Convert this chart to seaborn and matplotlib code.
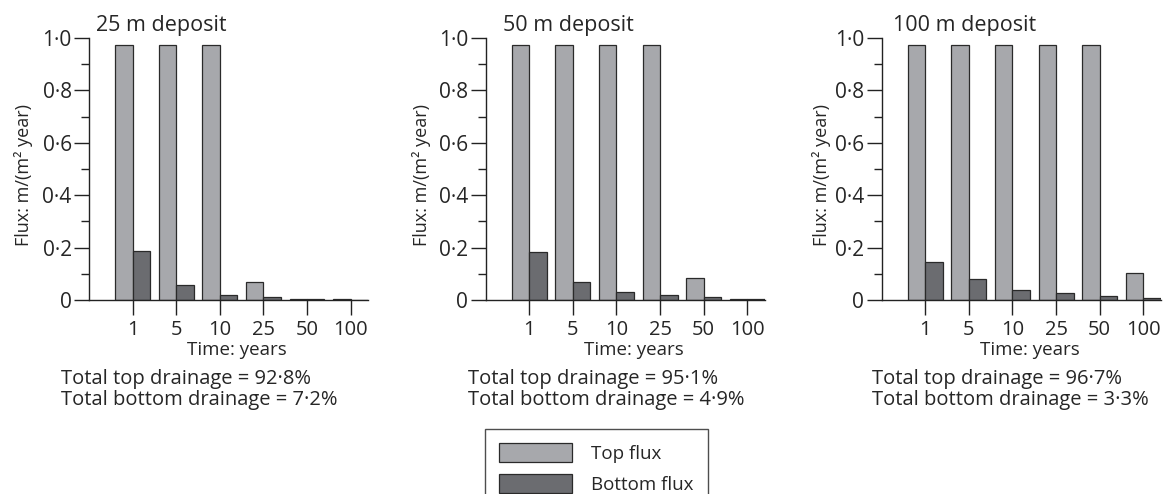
import numpy as np
import pandas as pd
import seaborn as sns
import matplotlib.pyplot as plt
from matplotlib.patches import Patch
from matplotlib.ticker import MultipleLocator

# data
times = ['1', '5', '10', '25', '50', '100']
deposits = ['25 m deposit', '50 m deposit', '100 m deposit']
top_25 = [0.975, 0.975, 0.975, 0.070, 0.005, 0.002]
bottom_25 = [0.187, 0.056, 0.019, 0.011, 0.003, 0.001]
top_50 = [0.975, 0.975, 0.975, 0.975, 0.085, 0.003]
bottom_50 = [0.182, 0.070, 0.029, 0.018, 0.010, 0.002]
top_100 = [0.975, 0.975, 0.975, 0.975, 0.975, 0.102]
bottom_100 = [0.144, 0.079, 0.037, 0.026, 0.015, 0.006]
totals_top = ['92·8%', '95·1%', '96·7%']
totals_bottom = ['7·2%', '4·9%', '3·3%']
ytick_vals = [0, 0.2, 0.4, 0.6, 0.8, 1.0]
ytick_labels = ['0', '0·2', '0·4', '0·6', '0·8', '1·0']
series = ['Top flux', 'Bottom flux']
colors = ['#a7a8ac', '#6b6c70']

tops = [top_25, top_50, top_100]
bottoms = [bottom_25, bottom_50, bottom_100]

sns.set_style('ticks')
plt.rcParams['font.family'] = ['Open Sans', 'DejaVu Sans']
plt.rcParams['font.size'] = 14
plt.rcParams['axes.edgecolor'] = '#222222'
plt.rcParams['axes.linewidth'] = 1.0

fig = plt.figure(figsize=(11.67, 4.94), dpi=100)
W, H = 1167, 494
lefts = [89, 485.7, 881.7]
text_x = [61, 468, 872]
title_x = [96, 503, 893]
ylab_x = [-0.20, -0.196, -0.18]

for i in range(3):
    ax = fig.add_axes([lefts[i] / W, (H - 300) / H, 279 / W, 262 / H])
    df = pd.DataFrame({
        'time': times * 2,
        'flux': tops[i] + bottoms[i],
        'kind': [series[0]] * 6 + [series[1]] * 6,
    })
    sns.barplot(data=df, x='time', y='flux', hue='kind', order=times,
                hue_order=series, palette=colors, saturation=1,
                edgecolor='#2a2a2a', linewidth=0.9, legend=False, ax=ax)
    ax.set_xlim(-1, 5.4)
    ax.set_ylim(0, 1.0)
    ax.set_yticks(ytick_vals)
    ax.set_yticklabels(ytick_labels, fontsize=15)
    ax.yaxis.set_minor_locator(MultipleLocator(0.1))
    ax.tick_params(axis='y', which='major', length=10.5, width=1, pad=2, color='#222222')
    ax.tick_params(axis='y', which='minor', length=5.5, width=1, color='#222222')
    ax.tick_params(axis='x', length=10.5, width=1, pad=4, labelsize=14.5, color='#222222')
    sns.despine(ax=ax)
    ax.set_xlabel('Time: years', fontsize=13.5)
    ax.xaxis.set_label_coords(0.53, -0.158)
    ax.set_ylabel('Flux: m/(m² year)', fontsize=13)
    ax.yaxis.set_label_coords(ylab_x[i], 0.477)
    fig.text(title_x[i] / W, 1 - 26 / H, deposits[i], ha='left', va='center', fontsize=15.5)
    fig.text(text_x[i] / W, 1 - 379 / H, 'Total top drainage = ' + totals_top[i],
             ha='left', va='center', fontsize=14.5)
    fig.text(text_x[i] / W, 1 - 400 / H, 'Total bottom drainage = ' + totals_bottom[i],
             ha='left', va='center', fontsize=14.5)

handles = [Patch(facecolor=c, edgecolor='#2a2a2a', linewidth=0.9) for c in colors]
leg = fig.legend(handles, series, loc='upper left', fontsize=13.5,
                 bbox_to_anchor=(485 / W, 1 - 429 / H),
                 frameon=True, fancybox=False, handlelength=3.9, handleheight=1.15,
                 handletextpad=1.0, labelspacing=0.6, borderpad=0.75,
                 borderaxespad=0)
leg.get_frame().set_edgecolor('#222222')
leg.get_frame().set_linewidth(1.0)

fig.savefig('out.png', dpi=100)
